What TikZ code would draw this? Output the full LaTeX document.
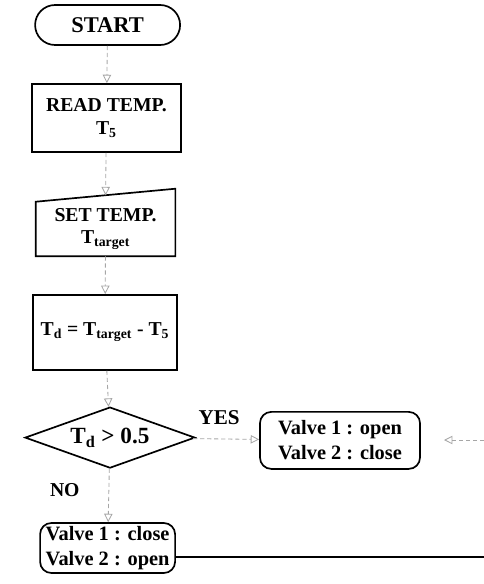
\documentclass[tikz,border=0pt]{standalone}
\usepackage{fontspec}
\setmainfont{Liberation Serif}
\usetikzlibrary{positioning,shapes,arrows.meta,calc}
\begin{document}
\begin{tikzpicture}[
  txt/.style={font=\fontsize{14}{14}\selectfont\bfseries, align=center, inner sep=0pt},
  boxed/.style={txt, draw, line width=1.2pt},
  valve/.style={boxed, rounded corners=8pt, font=\fontsize{14.5}{18}\selectfont\bfseries},
  link/.style={draw=gray!70, densely dashed, line width=0.6pt, -{Triangle[open,length=6pt,width=6pt]}}
]
\useasboundingbox (0,0) rectangle (12.1,-14.6);
% boxes
\node[boxed, rounded corners=0.5cm, minimum width=3.625cm, minimum height=1cm,
      font=\fontsize{16}{16}\selectfont\bfseries] (start) at (2.69,-0.625) {START};
\node[boxed, minimum width=3.725cm, minimum height=1.7cm] (read) at (2.66,-2.95)
      {READ TEMP.\\[2pt] T$_\mathbf{5}$};
\node[txt, minimum width=3.475cm, minimum height=1.35cm] (set) at (2.64,-5.725)
      {SET TEMP.\\[2pt] T$_\mathbf{target}$};
\draw[line width=1.2pt] (set.south west) -- (set.south east)
      -- ([yshift=0.325cm]set.north east) -- (set.north west) -- cycle;
\node[boxed, minimum width=3.6cm, minimum height=1.875cm] (diff) at (2.625,-8.31)
      {T$_\mathbf{d}$ = T$_\mathbf{target}$ - T$_\mathbf{5}$};
\node[boxed, diamond, shape aspect=2.8, minimum width=4.25cm, minimum height=1.525cm,
      font=\fontsize{16.5}{16.5}\selectfont\bfseries] (cmp) at (2.75,-10.94)
      {T$_\mathbf{d}$ > 0.5};
\node[valve, minimum width=3.375cm, minimum height=1.25cm] (vclose) at (2.69,-13.7)
      {Valve 1 : close\\ Valve 2 : open};
\node[valve, minimum width=4cm, minimum height=1.425cm] (vopen) at (8.5,-11.01)
      {Valve 1 : open\\ Valve 2 : close};
% labels
\node[txt, font=\fontsize{15}{15}\selectfont\bfseries] (yes) at (5.48,-10.43) {YES};
\node[txt] (no) at (1.62,-12.25) {NO};
% connectors
\coordinate (inR) at (12.1,-11.0);
\coordinate (inRtip) at (11.1,-11.0);
\coordinate (outR) at (12.1,-13.925);
\draw[link] (start) -- (read);
\draw[link] (read) -- ([yshift=0.16cm]set.north);
\draw[link] (set) -- (diff);
\draw[link] (diff) -- (cmp);
\draw[link] (cmp) -- (vclose);
\draw[link] (cmp) -- (vopen);
\draw[link] (inR) -- (inRtip);
\draw[line width=0.8pt] ([yshift=-0.225cm]vclose.east) -- (outR);
\end{tikzpicture}
\end{document}
